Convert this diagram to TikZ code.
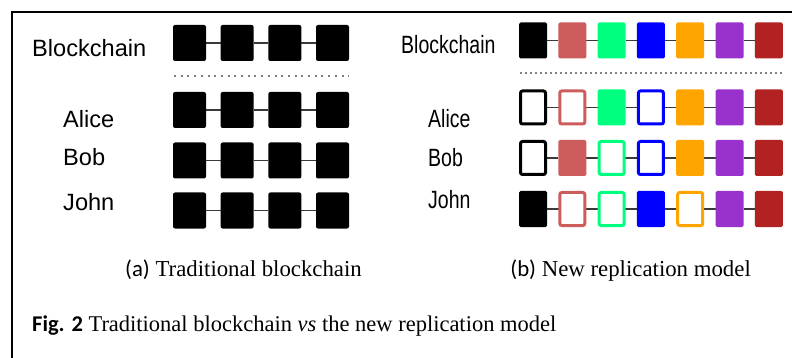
\documentclass[tikz,border=0pt]{standalone}
\usepackage{fontspec}
\setmainfont{Liberation Serif}
\newfontfamily\arialf{Liberation Sans}
\newfontfamily\narrowf[FakeStretch=0.78]{Liberation Sans}
\newfontfamily\calf{Carlito}
\usetikzlibrary{backgrounds}
\definecolor{cA}{HTML}{000000}
\definecolor{cB}{HTML}{CD5C5C}
\definecolor{cC}{HTML}{00FF7F}
\definecolor{cD}{HTML}{0000FF}
\definecolor{cE}{HTML}{FFA500}
\definecolor{cF}{HTML}{9932CC}
\definecolor{cG}{HTML}{B22222}
\definecolor{linkgray}{HTML}{3A3A3A}
\begin{document}
\begin{tikzpicture}[x=1pt,y=-1pt,
  bigblk/.style={fill=black, draw=none, rounded corners=2pt, minimum width=33pt, minimum height=36pt, inner sep=0pt, outer sep=0pt},
  blkf/.style={fill=#1, draw=none, rounded corners=1.5pt, minimum width=28pt, minimum height=36pt, inner sep=0pt, outer sep=0pt},
  blkh/.style={fill=white, draw=#1, line width=3pt, rounded corners=2pt, minimum width=25pt, minimum height=33pt, inner sep=0pt, outer sep=0pt},
  link/.style={draw=linkgray, line width=1.9pt},
  dotsL/.style={draw=gray, line width=2pt, dash pattern=on 2pt off 4.7pt},
  dotsR/.style={draw=gray, line width=1.8pt, dash pattern=on 1.8pt off 3.2pt},
  labL/.style={font=\arialf\fontsize{23.6pt}{28pt}\selectfont, inner sep=0pt, anchor=base west},
  labR/.style={font=\narrowf\fontsize{25pt}{30pt}\selectfont, inner sep=0pt, anchor=base west},
  captxt/.style={font=\fontsize{22.8pt}{27pt}\selectfont, inner sep=0pt},
  figtxt/.style={font=\fontsize{22.5pt}{27pt}\selectfont, inner sep=0pt},
  framestyle/.style={draw=black, line width=2pt}
]
\useasboundingbox (0,0) rectangle (792,358);
\begin{scope}[on background layer]
  \fill[white] (0,0) rectangle (792,358);
\end{scope}
% frame (cropped)
\coordinate (fr1) at (12,358);
\coordinate (fr2) at (12,12);
\coordinate (fr3) at (792,12);
\draw[framestyle] (fr1) -- (fr2) -- (fr3);

% ---------- left panel ----------
\node[labL] (lL0) at (32,57) {Blockchain};
\node[labL] (lL1) at (63,127.5) {Alice};
\node[labL] (lL2) at (63,166) {Bob};
\node[labL] (lL3) at (63,211) {John};

\foreach \r/\y in {0/43, 1/110, 2/160.5, 3/210.5}{
  \foreach \i in {1,...,4}{
    \node[bigblk] (L\r-\i) at ({189.5+(\i-1)*47.67}, \y) {};
  }
  \begin{scope}[on background layer]
    \foreach \i [evaluate=\i as \j using int(\i+1)] in {1,...,3}{
      \draw[link] (L\r-\i.east) -- (L\r-\j.west);
    }
  \end{scope}
}
\coordinate (dL1) at (174,76);
\coordinate (dL2) at (349,76);
\draw[dotsL] (dL1) -- (dL2);

% ---------- right panel ----------
\node[labR] (lR0) at (401,54) {Blockchain};
\node[labR] (lR1) at (428,128) {Alice};
\node[labR] (lR2) at (428,167) {Bob};
\node[labR] (lR3) at (428,208) {John};

\foreach \i/\c in {1/cA,2/cB,3/cC,4/cD,5/cE,6/cF,7/cG}{
  \node[blkf=\c] (R0-\i) at ({533+(\i-1)*39.3}, 40.5) {};
}
\foreach \i/\c/\t in {1/cA/h,2/cB/h,3/cC/f,4/cD/h,5/cE/f,6/cF/f,7/cG/f}{
  \node[blk\t=\c] (R1-\i) at ({533+(\i-1)*39.3}, 107.5) {};
}
\foreach \i/\c/\t in {1/cA/h,2/cB/f,3/cC/h,4/cD/h,5/cE/f,6/cF/f,7/cG/f}{
  \node[blk\t=\c] (R2-\i) at ({533+(\i-1)*39.3}, 158) {};
}
\foreach \i/\c/\t in {1/cA/f,2/cB/h,3/cC/h,4/cD/f,5/cE/h,6/cF/f,7/cG/f}{
  \node[blk\t=\c] (R3-\i) at ({533+(\i-1)*39.3}, 209) {};
}
\begin{scope}[on background layer]
  \foreach \r in {0,...,3}{
    \foreach \i [evaluate=\i as \j using int(\i+1)] in {1,...,6}{
      \draw[link] (R\r-\i.east) -- (R\r-\j.west);
    }
  }
\end{scope}
\coordinate (dR1) at (520,73);
\coordinate (dR2) at (783,73);
\draw[dotsR] (dR1) -- (dR2);

% ---------- captions ----------
\node[captxt, anchor=base east] (capa) at (362,276) {{\calf (a)} Traditional blockchain};
\node[captxt, anchor=base east] (capb) at (751,276) {{\calf (b)} New replication model};
\node[figtxt, anchor=base west] (fig) at (32,331) {{\calf\bfseries Fig. 2} Traditional blockchain \textit{vs} the new replication model};
\end{tikzpicture}
\end{document}
